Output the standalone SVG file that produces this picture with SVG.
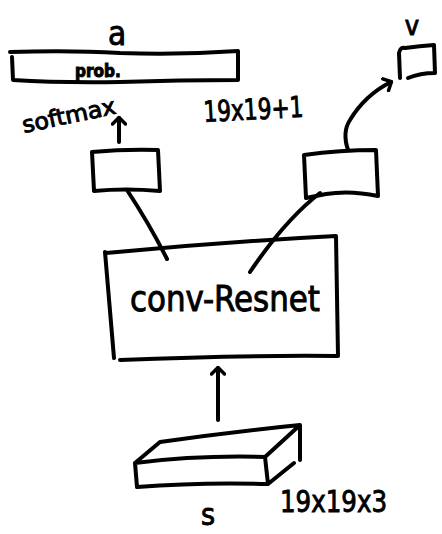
<svg xmlns="http://www.w3.org/2000/svg" width="442" height="534" viewBox="0 0 442 534">
  <style>
    .ink { fill: none; stroke: #000; stroke-width: 4; stroke-linecap: round; stroke-linejoin: round; }
    .hand { font-family: "DejaVu Sans Condensed", "Liberation Sans Narrow", "Liberation Sans", sans-serif; fill: #000; stroke: #000; stroke-width: 0.9; }
  </style>
  <defs>
    <marker id="head" markerWidth="16" markerHeight="16" refX="8" refY="8" orient="auto" markerUnits="userSpaceOnUse">
      <path d="M2 1.5 L8.5 8 L2 14.5" fill="none" stroke="#000" stroke-width="3.5" stroke-linecap="round" stroke-linejoin="round"/>
    </marker>
  </defs>
  <rect width="442" height="534" fill="#fff"/>

  <!-- policy output: probability bar -->
  <g id="policy-bar">
    <text class="hand" x="117" y="45" font-size="33" text-anchor="middle">a</text>
    <path class="ink" d="M10 52 Q70 50 120 53 Q180 55 238 51 L238 80 M12 57 L13 80 Q60 83 120 82 Q180 80 238 80"/>
    <text class="hand" x="75" y="77" font-size="17" font-weight="bold" stroke-width="0.3">prob.</text>
    <text class="hand" x="204" y="122" font-size="29" textLength="100" lengthAdjust="spacingAndGlyphs" transform="rotate(-3 204 122)">19x19+1</text>
  </g>

  <!-- policy head -->
  <g id="policy-head">
    <path class="ink" d="M92 152 Q125 149 158 150 L160 191 Q125 188 94 191 Z"/>
    <text class="hand" x="24" y="133" font-size="23" textLength="95" lengthAdjust="spacingAndGlyphs" transform="rotate(-12 24 133)">softmax</text>
  </g>

  <!-- value head -->
  <g id="value-head">
    <path class="ink" d="M304 155 Q340 150 376 150 L378 196 Q350 190 326 194 L306 198 Z"/>
  </g>

  <!-- value output -->
  <g id="value-out">
    <text class="hand" x="412" y="35" font-size="27" text-anchor="middle">v</text>
    <path class="ink" d="M400 78 L399 53 Q400 47 405 48 Q420 46 434 45 L435 73 Q420 73 408 78"/>
  </g>

  <!-- shared trunk -->
  <g id="trunk">
    <path class="ink" d="M106 253 Q220 242 336 236 L338 356 Q240 355 120 360 M105 252 L114 358"/>
    <text class="hand" x="130" y="311" font-size="36" textLength="190" lengthAdjust="spacingAndGlyphs">conv-Resnet</text>
  </g>

  <!-- input board planes -->
  <g id="input">
    <path class="ink" d="M135 463 Q200 455 265 457 L268 484 Q200 482 137 487 Z M135 463 L160 442 Q230 432 300 425 L265 457 M300 425 L300 460 M268 484 L294 463"/>
    <text class="hand" x="208" y="525" font-size="30" text-anchor="middle">s</text>
    <text class="hand" x="280" y="512" font-size="31" textLength="107" lengthAdjust="spacingAndGlyphs">19x19x3</text>
  </g>

  <g id="connectors">
    <path class="ink" d="M119 142 L119 118" marker-end="url(#head)"/>
    <path class="ink" d="M127 190 Q150 225 167 259"/>
    <path class="ink" d="M320 193 Q285 220 250 272"/>
    <path class="ink" d="M348 150 Q342 132 350 120 Q365 95 391 82" marker-end="url(#head)"/>
    <path class="ink" d="M218 420 L218 368" marker-end="url(#head)"/>
  </g>
</svg>
